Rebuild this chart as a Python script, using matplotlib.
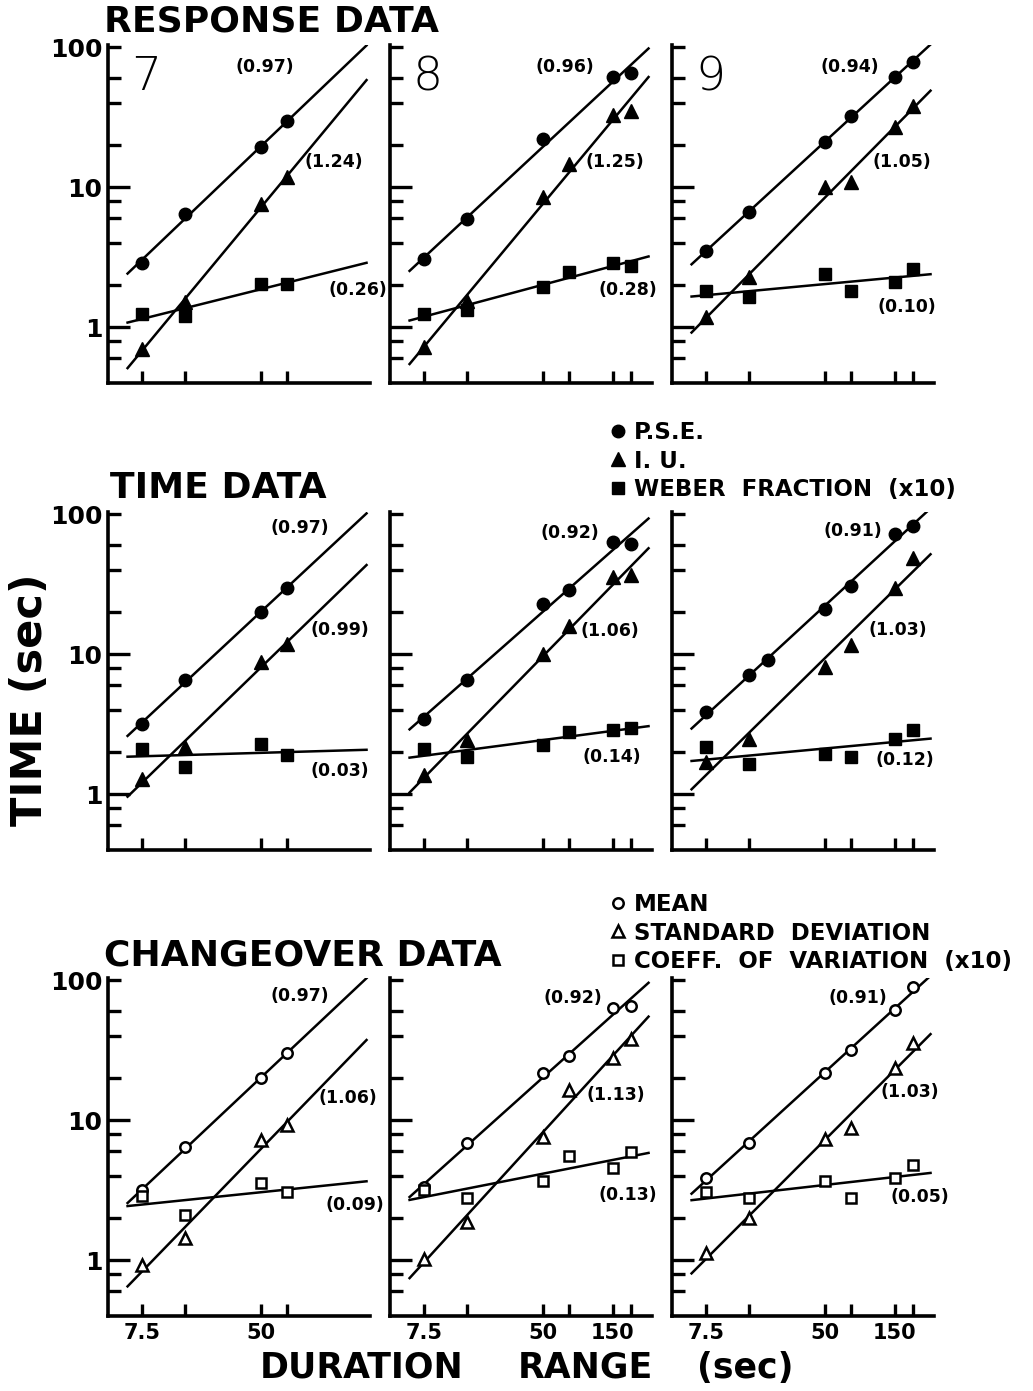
import numpy as np
import matplotlib
matplotlib.use("Agg")
import matplotlib.pyplot as plt
from matplotlib.ticker import FixedLocator, NullFormatter, NullLocator, FuncFormatter

plt.rcParams['font.family'] = ['DejaVu Sans']

# --- duration ranges (sec) used on the x axis ---
dur_4 = [7.5, 15, 50, 75]
dur_5 = [7.5, 15, 50, 150, 200]
dur_6 = [7.5, 15, 50, 75, 150, 200]
dur_7 = [7.5, 15, 20, 50, 75, 150, 200]

# --- RESPONSE DATA (P.S.E., I.U., Weber fraction x10) ---
resp7_pse = [2.9, 6.4, 19.3, 29.6]
resp7_iu = [0.70, 1.51, 7.6, 11.8]
resp7_weber = [1.24, 1.2, 2.03, 2.03]
resp8_pse = [3.06, 5.9, 22, 61, 66]
resp8_iu = [0.72, 1.53, 8.5, 14.6, 33, 35]
resp8_weber = [1.24, 1.34, 1.93, 2.5, 2.9, 2.73]
resp9_pse = [3.5, 6.7, 21, 32.6, 61, 79]
resp9_iu = [1.18, 2.3, 10, 11.0, 26.8, 38]
resp9_weber = [1.81, 1.64, 2.39, 1.81, 2.1, 2.6]

# --- TIME DATA ---
time7_pse = [3.16, 6.6, 20, 30]
time7_iu = [1.28, 2.17, 8.8, 11.8]
time7_weber = [2.1, 1.56, 2.27, 1.9]
time8_pse = [3.43, 6.6, 22.8, 29, 63, 61]
time8_iu = [1.37, 2.43, 10, 16, 35.5, 36.6]
time8_weber = [2.1, 1.84, 2.24, 2.77, 2.87, 3.0]
time9_pse = [3.85, 7.1, 9.1, 21, 31, 72, 83]
time9_iu = [1.69, 2.47, 8.1, 11.6, 30, 49]
time9_weber = [2.17, 1.64, 1.93, 1.84, 2.47, 2.9]

# --- CHANGEOVER DATA (mean, s.d., coeff. of variation x10) ---
chg7_mean = [3.16, 6.4, 20, 30.5]
chg7_sd = [0.92, 1.44, 7.2, 9.2]
chg7_cov = [2.9, 2.1, 3.55, 3.06]
chg8_mean = [3.32, 6.85, 21.7, 28.6, 63, 66]
chg8_sd = [1.03, 1.87, 7.6, 16.4, 28, 38]
chg8_cov = [3.2, 2.77, 3.7, 5.6, 4.6, 5.9]
chg9_mean = [3.9, 6.85, 21.7, 31.6, 61, 89]
chg9_sd = [1.12, 2.0, 7.4, 8.8, 23.5, 35.5]
chg9_cov = [3.06, 2.8, 3.7, 2.8, 3.9, 4.8]

# slope values printed next to the fitted lines
slopes = [
    [["(0.97)", "(1.24)", "(0.26)"], ["(0.96)", "(1.25)", "(0.28)"], ["(0.94)", "(1.05)", "(0.10)"]],
    [["(0.97)", "(0.99)", "(0.03)"], ["(0.92)", "(1.06)", "(0.14)"], ["(0.91)", "(1.03)", "(0.12)"]],
    [["(0.97)", "(1.06)", "(0.09)"], ["(0.92)", "(1.13)", "(0.13)"], ["(0.91)", "(1.03)", "(0.05)"]],
]

panels = [
    [[(dur_4, resp7_pse), (dur_4, resp7_iu), (dur_4, resp7_weber)],
     [(dur_5, resp8_pse), (dur_6, resp8_iu), (dur_6, resp8_weber)],
     [(dur_6, resp9_pse), (dur_6, resp9_iu), (dur_6, resp9_weber)]],
    [[(dur_4, time7_pse), (dur_4, time7_iu), (dur_4, time7_weber)],
     [(dur_6, time8_pse), (dur_6, time8_iu), (dur_6, time8_weber)],
     [(dur_7, time9_pse), (dur_6, time9_iu), (dur_6, time9_weber)]],
    [[(dur_4, chg7_mean), (dur_4, chg7_sd), (dur_4, chg7_cov)],
     [(dur_6, chg8_mean), (dur_6, chg8_sd), (dur_6, chg8_cov)],
     [(dur_6, chg9_mean), (dur_6, chg9_sd), (dur_6, chg9_cov)]],
]

subjects = ["7", "8", "9"]
col_ticks = [dur_4, dur_6, dur_6]
col_ticklabels = [["7.5", "", "50", ""], ["7.5", "", "50", "", "150", ""], ["7.5", "", "50", "", "150", ""]]
legend_filled = ["P.S.E.", "I. U.", "WEBER  FRACTION  (x10)"]
legend_open = ["MEAN", "STANDARD  DEVIATION", "COEFF.  OF  VARIATION  (x10)"]

# layout (axes fraction) of the slope labels
label_pos = [
    [[(0.60, 0.935), (0.86, 0.654), (0.955, 0.275)],
     [(0.668, 0.935), (0.86, 0.654), (0.908, 0.275)],
     [(0.679, 0.935), (0.878, 0.654), (0.897, 0.225)]],
    [[(0.733, 0.953), (0.885, 0.651), (0.885, 0.234)],
     [(0.687, 0.938), (0.84, 0.648), (0.847, 0.275)],
     [(0.691, 0.944), (0.863, 0.651), (0.889, 0.266)]],
    [[(0.733, 0.947), (0.916, 0.645), (0.943, 0.328)],
     [(0.698, 0.941), (0.862, 0.654), (0.908, 0.358)],
     [(0.710, 0.941), (0.908, 0.663), (0.947, 0.352)]],
]

W, H = 1033, 1391
fig = plt.figure(figsize=(W / 100, H / 100), dpi=100)

lefts = [108, 390, 672]
tops = [45, 512, 978]
aw, ah = 262, 338

markers = ['o', '^', 's']
msize_filled = [9, 10, 8]
msize_open = [7.5, 9, 7]

legend_handles = {}
for r in range(3):
    for c in range(3):
        ax = fig.add_axes([lefts[c] / W, 1 - (tops[r] + ah) / H, aw / W, ah / H])
        ax.set_xscale('log')
        ax.set_yscale('log')
        for s, (x, y) in enumerate(panels[r][c]):
            x = np.array(x)
            y = np.array(y)
            # log-log regression line
            m, b = np.polyfit(np.log10(x), np.log10(y), 1)
            xl = np.array([6.0, 265.0])
            ax.plot(xl, 10 ** (b + m * np.log10(xl)), color='black', lw=1.8, zorder=2)
            if r < 2:
                h, = ax.plot(x, y, linestyle='none', marker=markers[s], ms=msize_filled[s],
                             mfc='black', mec='black', zorder=3)
            else:
                h, = ax.plot(x, y, linestyle='none', marker=markers[s], ms=msize_open[s],
                             mfc='white', mec='black', mew=1.8, zorder=3)
            if c == 0:
                legend_handles[(r, s)] = h
            px, py = label_pos[r][c][s]
            ax.text(px, py, slopes[r][c][s], transform=ax.transAxes, ha='center', va='center',
                    fontsize=12.5, fontweight='bold')

        ax.set_xlim(4.4, 280)
        ax.set_ylim(0.4, 104)
        for side in ['top', 'right']:
            ax.spines[side].set_visible(False)
        for side in ['left', 'bottom']:
            ax.spines[side].set_linewidth(2.6)

        ax.xaxis.set_major_locator(FixedLocator(col_ticks[c]))
        ax.xaxis.set_minor_locator(NullLocator())
        if r == 2:
            ax.set_xticklabels(col_ticklabels[c])
        else:
            ax.xaxis.set_major_formatter(NullFormatter())
        # long ticks at 1 and 10, short ones elsewhere (including 100)
        ax.yaxis.set_major_locator(FixedLocator([1, 10]))
        ax.yaxis.set_minor_locator(FixedLocator([0.6, 0.8, 2, 4, 6, 8, 20, 40, 60, 100]))
        if c == 0:
            ax.yaxis.set_major_formatter(FuncFormatter(lambda v, p: "%d" % v))
            ax.yaxis.set_minor_formatter(FuncFormatter(lambda v, p: "100" if v == 100 else ""))
        else:
            ax.yaxis.set_major_formatter(NullFormatter())
            ax.yaxis.set_minor_formatter(NullFormatter())

        ax.tick_params(axis='x', which='major', direction='in', length=8.5, width=2.4,
                       labelsize=15, pad=5)
        ax.tick_params(axis='y', which='major', direction='in', length=16, width=2.4,
                       labelsize=18, pad=4)
        ax.tick_params(axis='y', which='minor', direction='in', length=9, width=2.4,
                       labelsize=18, pad=4)
        for lab in (ax.get_xticklabels() + ax.get_yticklabels()
                    + ax.get_yticklabels(minor=True)):
            lab.set_fontweight('bold')

        if r == 0:
            ax.text(0.145, 0.905, subjects[c], transform=ax.transAxes, ha='center', va='center',
                    fontsize=34, fontweight='light')

# section titles
title_kw = dict(fontsize=26, fontweight='bold', ha='left', va='center')
fig.text(104 / W, 1 - 22 / H, "RESPONSE DATA", **title_kw)
fig.text(110 / W, 1 - 488 / H, "TIME DATA", **title_kw)
fig.text(104 / W, 1 - 955 / H, "CHANGEOVER DATA", **title_kw)

# axis labels
fig.text(30 / W, 1 - 700 / H, "TIME (sec)", rotation=90, fontsize=31, fontweight='bold',
         ha='center', va='center')
for word, xc in [("DURATION", 362), ("RANGE", 585), ("(sec)", 745)]:
    fig.text(xc / W, 1 - 1368 / H, word, fontsize=25, fontweight='bold', ha='center', va='center')

# legends
leg_kw = dict(loc='upper left', frameon=False, handlelength=0.7, handletextpad=0.35,
              labelspacing=0.24, borderpad=0, borderaxespad=0,
              prop={'size': 16.5, 'weight': 'bold'})
fig.legend([legend_handles[(0, s)] for s in range(3)], legend_filled,
           bbox_to_anchor=(610 / W, 1 - 421 / H), **leg_kw)
fig.legend([legend_handles[(2, s)] for s in range(3)], legend_open,
           bbox_to_anchor=(610 / W, 1 - 893 / H), **leg_kw)

fig.savefig("out.png", dpi=100)
